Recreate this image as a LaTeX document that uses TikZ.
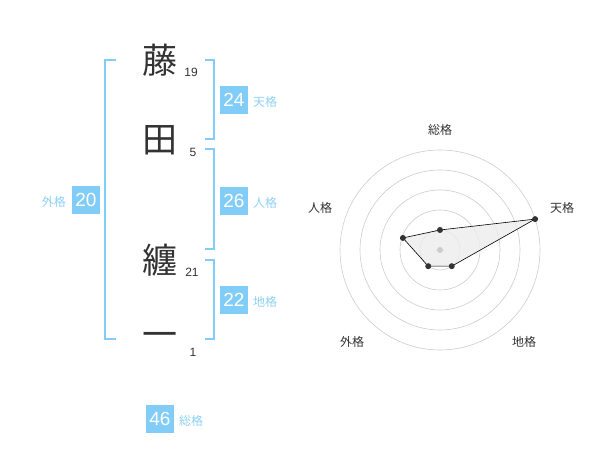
\documentclass[tikz,border=0pt]{standalone}
\usepackage{fontspec}
\setmainfont{Liberation Sans}
\newfontfamily\cjk{Noto Sans CJK JP}
\definecolor{sky}{HTML}{82CDF8}
\definecolor{skytxt}{HTML}{8ED1F5}
\definecolor{ink}{HTML}{333333}
\definecolor{ring}{HTML}{CCCCCC}
\tikzset{
  kanji/.style={font=\cjk\fontsize{35}{35}\selectfont, text=ink, inner sep=0pt},
  strokes/.style={font=\fontsize{12}{12}\selectfont, text=ink, inner sep=0pt},
  numbox/.style={fill=sky, text=white, minimum width=28pt, minimum height=28pt, inner sep=0pt, font=\fontsize{19}{19}\selectfont},
  kaku/.style={text=skytxt, font=\cjk\fontsize{12}{12}\selectfont, inner sep=0pt},
  bracket/.style={draw=sky, line width=1.6pt},
  axislabel/.style={text=ink, font=\cjk\fontsize{12}{12}\selectfont, inner sep=0pt},
  pt/.style={circle, fill=ink, inner sep=0pt, minimum size=6pt},
}
\begin{document}
\begin{tikzpicture}[x=1pt,y=-1pt]
\useasboundingbox (0,0) rectangle (600,470);
% characters
\node[kanji] (c1) at (160,60) {藤};
\node[strokes] (n1) at (191,72) {19};
\node[kanji] (c2) at (160,140) {田};
\node[strokes] (n2) at (193,152) {5};
\node[kanji] (c3) at (160,260) {纏};
\node[strokes] (n3) at (192,272) {21};
\node[kanji] (c4) at (160,340) {一};
\node[strokes] (n4) at (193,352) {1};
% brackets
\draw[bracket] (116,60) -- (105,60) -- (105,339) -- (116,339);
\draw[bracket] (205,60) -- (214,60) -- (214,139) -- (205,139);
\draw[bracket] (205,149) -- (214,149) -- (214,249) -- (205,249);
\draw[bracket] (205,260) -- (214,260) -- (214,339) -- (205,339);
% boxes
\node[numbox] (ten) at (234,100) {24};
\node[kaku, anchor=west] (tenl) at (253,102) {天格};
\node[numbox] (jin) at (234,201) {26};
\node[kaku, anchor=west] (jinl) at (253,203) {人格};
\node[numbox] (chi) at (234,300) {22};
\node[kaku, anchor=west] (chil) at (253,302) {地格};
\node[numbox] (gai) at (86,200) {20};
\node[kaku, anchor=east] (gail) at (66,202) {外格};
\node[numbox] (sou) at (160,419) {46};
\node[kaku, anchor=west] (soul) at (179,421) {総格};
% radar
\coordinate (o) at (440,250);
\foreach \r in {20,40,60,80,100} \draw[ring, line width=0.6pt] (o) circle[radius=\r];
\path (o) ++(0,-20) coordinate (ps);
\path (o) ++(95.1,-30.9) coordinate (pt1);
\path (o) ++(11.76,16.18) coordinate (pc);
\path (o) ++(-11.76,16.18) coordinate (pg);
\path (o) ++(-37.1,-12.05) coordinate (pj);
\fill[gray!15, opacity=0.8] (ps) -- (pt1) -- (pc) -- (pg) -- (pj) -- cycle;
\draw[black, line width=0.6pt] (ps) -- (pt1) -- (pc) -- (pg) -- (pj) -- cycle;
\node[circle, fill=ring, inner sep=0pt, minimum size=6pt] (oc) at (o) {};
\foreach \p in {ps,pt1,pc,pg,pj} \node[pt] at (\p) {};
\node[axislabel] (ls) at (440,130) {総格};
\node[axislabel] (lt) at (562,208) {天格};
\node[axislabel] (lj) at (320,208) {人格};
\node[axislabel] (lg) at (352,342) {外格};
\node[axislabel] (lc) at (524,342) {地格};
\end{tikzpicture}
\end{document}
